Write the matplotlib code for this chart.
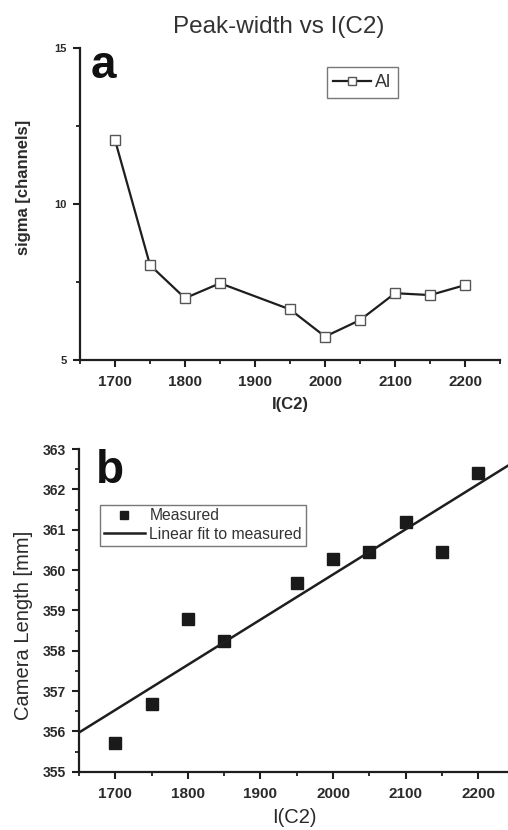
import numpy as np
import matplotlib
matplotlib.use("Agg")
import matplotlib.pyplot as plt
from matplotlib.ticker import MultipleLocator

plt.rcParams['font.family'] = ['Liberation Sans', 'DejaVu Sans']

# Peak width (sigma) of the Al line vs C2 lens current
c2_sigma = [1700, 1750, 1800, 1850, 1950, 2000, 2050, 2100, 2150, 2200]
sigma = [12.05, 8.04, 6.98, 7.46, 6.62, 5.75, 6.28, 7.14, 7.08, 7.40]

# Measured camera length vs C2 lens current
c2_cam = [1700, 1750, 1800, 1850, 1950, 2000, 2050, 2100, 2150, 2200]
cam_len = [355.70, 356.69, 358.79, 358.25, 359.69, 360.28, 360.44, 361.19, 360.44, 362.40]

ink = "#1e1e1e"

fig = plt.figure(figsize=(5.08, 8.30), dpi=100)
ax1 = fig.add_axes([0.1575, 0.5663, 0.827, 0.3759])
ax2 = fig.add_axes([0.1555, 0.0702, 0.8575, 0.3888])


def style_axes(ax, ysize):
    for side in ["top", "right"]:
        ax.spines[side].set_visible(False)
    for side in ["left", "bottom"]:
        ax.spines[side].set_linewidth(1.6)
        ax.spines[side].set_color(ink)
    ax.tick_params(which="major", direction="out", length=5, width=1.5, color=ink)
    ax.tick_params(which="minor", direction="out", length=3, width=1.3, color=ink)
    ax.tick_params(axis="x", labelsize=11, pad=6)
    ax.tick_params(axis="y", labelsize=ysize, pad=4.5)
    for lbl in ax.get_xticklabels() + ax.get_yticklabels():
        lbl.set_fontweight("bold")
        lbl.set_color("#2a2a2a")


# Panel a
ax1.plot(c2_sigma, sigma, color=ink, linewidth=1.6, marker="s", markersize=7,
         markerfacecolor="white", markeredgecolor="#555555", markeredgewidth=1.0,
         label="Al")
ax1.set_xlim(1650, 2250)
ax1.set_ylim(5, 15)
ax1.xaxis.set_major_locator(MultipleLocator(100))
ax1.xaxis.set_minor_locator(MultipleLocator(50))
ax1.yaxis.set_major_locator(MultipleLocator(5))
ax1.yaxis.set_minor_locator(MultipleLocator(2.5))
style_axes(ax1, 8)
ax1.set_xlabel("I(C2)", fontsize=12, fontweight="bold", color="#2a2a2a")
ax1.xaxis.set_label_coords(0.5, -0.118)
ax1.set_ylabel("sigma [channels]", fontsize=12, fontweight="bold", color="#2a2a2a")
ax1.yaxis.set_label_coords(-0.117, 0.553)
ax1.text(0.025, 0.905, "a", transform=ax1.transAxes, fontsize=33,
         fontweight="bold", color="#111111")
leg1 = ax1.legend(loc="upper left", bbox_to_anchor=(0.587, 0.939), fontsize=13,
                  frameon=True, fancybox=False, handlelength=2.1,
                  handletextpad=0.2, borderpad=0.38, borderaxespad=0)
leg1.get_frame().set_edgecolor("#555555")
leg1.get_frame().set_linewidth(1.0)
leg1.legend_handles[0].set_markersize(5.5)
for t in leg1.get_texts():
    t.set_color("#333333")

fig.text(0.548, 0.968, "Peak-width vs I(C2)", ha="center", va="center",
         fontsize=17.5, color="#333333")

# Panel b
slope, intercept = np.polyfit(c2_cam, cam_len, 1)
xfit = np.array([1650, 2250])
ax2.plot(c2_cam, cam_len, linestyle="none", marker="s", markersize=8.5,
         color="#1a1a1a", label="Measured")
ax2.plot(xfit, slope * xfit + intercept, color=ink, linewidth=1.8,
         label="Linear fit to measured")
ax2.set_xlim(1650, 2250)
ax2.set_ylim(355, 363)
ax2.xaxis.set_major_locator(MultipleLocator(100))
ax2.xaxis.set_minor_locator(MultipleLocator(50))
ax2.yaxis.set_major_locator(MultipleLocator(1))
ax2.yaxis.set_minor_locator(MultipleLocator(0.5))
style_axes(ax2, 10)
ax2.set_xlabel("I(C2)", fontsize=14.5, color="#2a2a2a")
ax2.xaxis.set_label_coords(0.495, -0.112)
ax2.set_ylabel("Camera Length [mm]", fontsize=14.5, color="#2a2a2a")
ax2.yaxis.set_label_coords(-0.105, 0.455)
ax2.text(0.038, 0.895, "b", transform=ax2.transAxes, fontsize=33,
         fontweight="bold", color="#111111")
leg2 = ax2.legend(loc="upper left", bbox_to_anchor=(0.048, 0.828), fontsize=11.3,
                  frameon=True, fancybox=False, handlelength=2.6,
                  handletextpad=0.3, borderpad=0.25, borderaxespad=0,
                  labelspacing=0.2)
leg2.get_frame().set_edgecolor("#555555")
leg2.get_frame().set_linewidth(1.0)
leg2.legend_handles[0].set_markersize(6)
for t in leg2.get_texts():
    t.set_color("#333333")

fig.savefig("out.png", dpi=100)
